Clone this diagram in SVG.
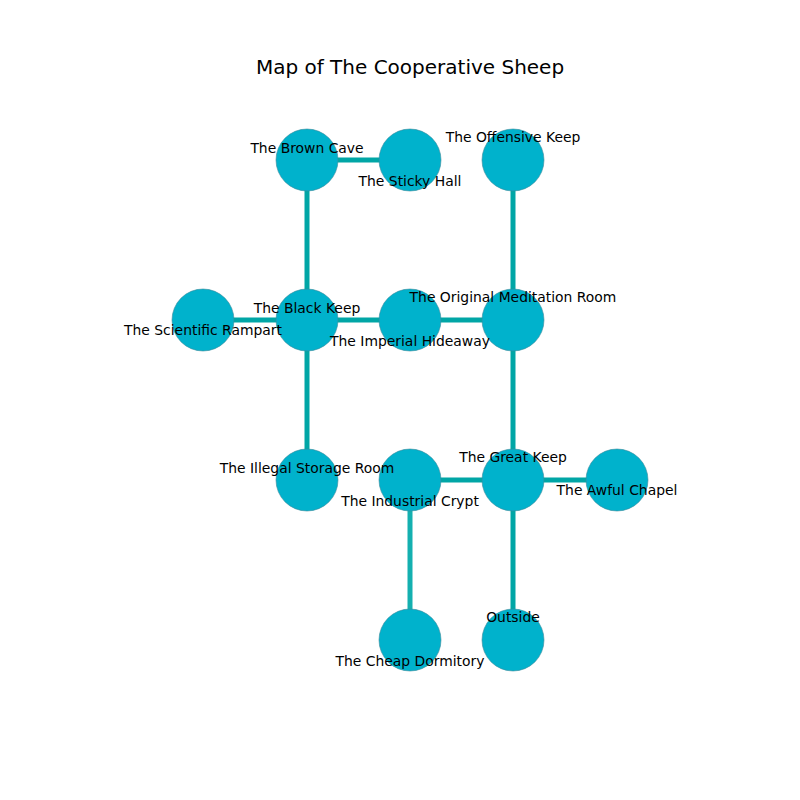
<svg xmlns="http://www.w3.org/2000/svg" width="800" height="800" viewBox="0 0 800 800">
<style>
.n{fill:#00b2cc;stroke:#3a8a9a;stroke-width:0.6}
.e{stroke:#00a6a6;stroke-width:5}
.e2{stroke:#14b0b0;stroke-width:5}
text{font-family:"DejaVu Sans",sans-serif;font-size:13.9px;fill:#000;text-anchor:middle}
.t{font-size:20px}
</style>
<rect width="800" height="800" fill="#fff"/>
<text class="t" x="410" y="74">Map of The Cooperative Sheep</text>
<g id="edges">
<line class="e" x1="307" y1="160" x2="410" y2="160"/>
<line class="e" x1="307" y1="160" x2="307" y2="320"/>
<line class="e" x1="513" y1="160" x2="513" y2="320"/>
<line class="e" x1="203" y1="320" x2="307" y2="320"/>
<line class="e" x1="307" y1="320" x2="410" y2="320"/>
<line class="e" x1="410" y1="320" x2="513" y2="320"/>
<line class="e" x1="307" y1="320" x2="307" y2="480"/>
<line class="e" x1="513" y1="320" x2="513" y2="480"/>
<line class="e" x1="410" y1="480" x2="513" y2="480"/>
<line class="e" x1="513" y1="480" x2="617" y2="480"/>
<line class="e2" x1="410" y1="480" x2="410" y2="640"/>
<line class="e" x1="513" y1="480" x2="513" y2="640"/>
</g>
<g id="nodes">
<g id="brown-cave"><circle class="n" cx="307" cy="160" r="31"/></g>
<g id="sticky-hall"><circle class="n" cx="410" cy="160" r="31"/></g>
<g id="offensive-keep"><circle class="n" cx="513" cy="160" r="31"/></g>
<g id="scientific-rampart"><circle class="n" cx="203" cy="320" r="31"/></g>
<g id="black-keep"><circle class="n" cx="307" cy="320" r="31"/></g>
<g id="imperial-hideaway"><circle class="n" cx="410" cy="320" r="31"/></g>
<g id="original-meditation-room"><circle class="n" cx="513" cy="320" r="31"/></g>
<g id="illegal-storage-room"><circle class="n" cx="307" cy="480" r="31"/></g>
<g id="industrial-crypt"><circle class="n" cx="410" cy="480" r="31"/></g>
<g id="great-keep"><circle class="n" cx="513" cy="480" r="31"/></g>
<g id="awful-chapel"><circle class="n" cx="617" cy="480" r="31"/></g>
<g id="cheap-dormitory"><circle class="n" cx="410" cy="640" r="31"/></g>
<g id="outside"><circle class="n" cx="513" cy="640" r="31"/></g>
</g>
<g id="labels">
<text id="lbl-brown-cave" x="307" y="153">The Brown Cave</text>
<text id="lbl-sticky-hall" x="410" y="186">The Sticky Hall</text>
<text id="lbl-offensive-keep" x="513" y="142">The Offensive Keep</text>
<text id="lbl-scientific-rampart" x="203" y="335">The Scientific Rampart</text>
<text id="lbl-black-keep" x="307" y="313">The Black Keep</text>
<text id="lbl-imperial-hideaway" x="410" y="346">The Imperial Hideaway</text>
<text id="lbl-original-meditation-room" x="513" y="302">The Original Meditation Room</text>
<text id="lbl-illegal-storage-room" x="307" y="473">The Illegal Storage Room</text>
<text id="lbl-industrial-crypt" x="410" y="506">The Industrial Crypt</text>
<text id="lbl-great-keep" x="513" y="462">The Great Keep</text>
<text id="lbl-awful-chapel" x="617" y="495">The Awful Chapel</text>
<text id="lbl-cheap-dormitory" x="410" y="666">The Cheap Dormitory</text>
<text id="lbl-outside" x="513" y="622">Outside</text>
</g>
</svg>
